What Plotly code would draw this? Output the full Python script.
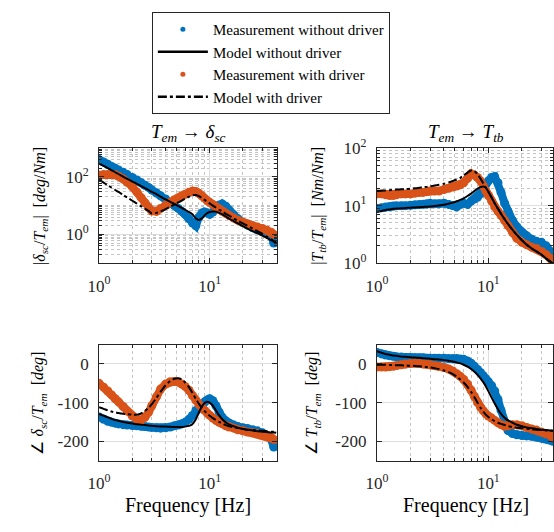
import plotly.graph_objects as go

# ---------------- data ----------------
F = [1.0, 1.1, 1.2, 1.3, 1.4, 1.5,
     1.65, 1.8, 2.0, 2.2, 2.4, 2.6, 2.8, 3.0,
     3.3, 3.6, 4.0, 4.4, 4.8, 5.2, 5.6, 6.0,
     6.5, 7.0, 7.5, 8.0, 8.5, 9.0, 9.5, 10.0,
     10.7, 11.4, 12.2, 13.0, 14.0, 15.0, 16.5, 18.0,
     20.0, 22.0, 24.5, 27.0, 30.0, 33.0, 36.0, 38.0, 40.0]

# T_em -> delta_sc magnitude [deg/Nm]
tl_meas_nodrv = [400, 330, 275, 230, 200, 175,
                 145, 120, 95, 78, 63, 51, 43, 35,
                 28, 22, 17, 12.6, 10, 8, 6.3, 5.0,
                 3.5, 2.5, 2.0, 4.0, 5.5, 6.0, 5.5, 5.0,
                 6.0, 8.0, 10.5, 11.5, 9.5, 7.0, 4.8, 3.5,
                 2.6, 2.1, 1.7, 1.45, 1.26, 1.1, 0.9, 0.5, None]
tl_meas_drv = [117, 120, 122, 122, 118, 105,
               85, 65, 45, 30, 19, 12.5, 8.5, 6.5,
               6.3, 8.0, 10.5, 13, 16, 19, 22, 25,
               29, 32, 31, 27, 22, 18, 15, 13,
               11, 9, 7.5, 6.3, 5.3, 4.5, 3.7, 3.1,
               2.6, 2.3, 2.0, 1.8, 1.6, 1.4, 1.2, 1.0, None]
tl_model_nodrv = [288, 240, 200, 170, 145, 126,
                  102, 85, 69, 57, 48, 41, 35, 30,
                  25, 20.6, 16.5, 13.5, 11.4, 9.7, 8.3, 7.2,
                  6.0, 5.0, 3.6, 3.2, 3.6, 4.6, 5.5, 6.0,
                  6.3, 6.2, 5.6, 5.0, 4.2, 3.5, 2.9, 2.4,
                  1.95, 1.6, 1.3, 1.1, 0.9, 0.74, 0.63, 0.56, 0.5]
tl_model_drv = [80, 63, 51, 42, 35, 30,
                23.5, 19, 14.8, 11.7, 9.5, 7.9, 6.6, 5.3,
                5.6, 6.3, 7.6, 9.1, 11, 12.9, 15, 17.4,
                20.4, 23, 23.4, 21.4, 18.6, 15.8, 13.8, 12,
                10, 8.5, 7.2, 6.3, 5.2, 4.5, 3.6, 3.0,
                2.4, 2.0, 1.6, 1.3, 1.05, 0.83, 0.68, 0.59, 0.5]

# T_em -> T_tb magnitude [Nm/Nm]
tr_meas_nodrv = [8.9, 9.2, 9.5, 9.7, 9.9, 10,
                 10, 10, 10.2, 10.4, 10.5, 10.6, 10.8, 11,
                 10.8, 10.8, 11, 10.5, 10, 9.5, 10.5, 11,
                 10.5, 12, 13, 14, 16, 19, 23, 27,
                 31, 32, 25, 17, 11, 8, 5.5, 4.3,
                 3.4, 3.0, 2.6, 2.4, 2.3, 2.0, 1.6, 1.2, None]
tr_meas_drv = [16, 16, 15.5, 15, 15, 15.5,
               16, 16, 16, 16.5, 17, 17, 17.5, 18,
               18, 18, 19, 20, 21, 22, 23, 25,
               30, 36, 34, 31, 27, 22, 18, 15,
               12, 9.5, 8, 6.8, 5.5, 4.5, 3.4, 2.7,
               2.3, 2.1, 1.9, 1.8, 1.6, 1.4, 1.2, 1.0, None]
tr_model_nodrv = [7.8, 8.1, 8.4, 8.6, 8.8, 8.9,
                  9.0, 9.1, 9.2, 9.3, 9.4, 9.5, 9.6, 9.7,
                  9.9, 10.1, 10.4, 10.8, 11.3, 11.9, 12.6, 13.4,
                  14.7, 16.2, 18, 19.8, 21, 21.5, 20.5, 17.5,
                  13.8, 11, 8.8, 7.2, 5.8, 4.8, 3.8, 3.1,
                  2.5, 2.1, 1.8, 1.6, 1.4, 1.2, 1.06, 0.98, 0.92]
tr_model_drv = [18, 18.2, 18.4, 18.6, 18.8, 19,
                19.2, 19.4, 19.7, 20, 20.4, 20.8, 21.2, 21.6,
                22.3, 23, 24, 25.3, 26.8, 28.5, 30.5, 33.5,
                37.5, 41, 40, 35, 29.5, 24.5, 20.5, 17.5,
                13.8, 11, 8.8, 7.2, 5.8, 4.8, 3.8, 3.1,
                2.5, 2.1, 1.8, 1.6, 1.4, 1.2, 1.06, 0.98, 0.92]

# T_em -> delta_sc phase [deg]
bl_meas_nodrv = [-137, -143, -148, -151, -153, -155,
                 -157, -158, -159, -160, -161, -162, -163, -164,
                 -165, -166, -165, -163, -160, -158, -155, -151,
                 -143, -133, -120, -112, -105, -98, -93, -90,
                 -95, -108, -125, -138, -147, -153, -158, -162,
                 -165, -167, -170, -173, -178, -185, -195, -215, None]
bl_meas_drv = [-50, -60, -70, -80, -90, -98,
               -110, -122, -135, -143, -145, -138, -125, -108,
               -85, -65, -52, -46, -45, -47, -52, -58,
               -68, -82, -94, -105, -113, -120, -127, -133,
               -140, -146, -151, -155, -160, -163, -166, -170,
               -173, -176, -178, -180, -183, -186, -190, -195, None]
bl_model_nodrv = [-129, -134, -138, -142, -145, -147,
                  -150, -152, -154, -156, -157, -158, -159, -160,
                  -161, -161.5, -162, -162.5, -163, -163, -163, -162,
                  -160, -155, -143, -125, -110, -101, -98, -100,
                  -108, -120, -133, -143, -151, -156, -161, -165,
                  -168, -170, -172, -174, -175, -176, -177, -177, -178]
bl_model_drv = [-112, -116, -120, -123, -125, -127,
                -129, -130, -131, -131, -128, -122, -114, -104,
                -88, -72, -55, -44, -38, -37, -40, -48,
                -60, -75, -90, -103, -113, -122, -128, -134,
                -140, -145, -150, -154, -158, -161, -164, -166,
                -168, -170, -171, -172, -173, -174, -175, -175, -176]

# T_em -> T_tb phase [deg]
br_meas_nodrv = [30, 26, 23, 21, 20, 19,
                 18, 17, 17, 16, 16, 16, 15, 15,
                 15, 15, 15, 14, 14, 14, 13, 12,
                 8, 2, -6, -14, -22, -30, -38, -46,
                 -56, -70, -92, -120, -150, -172, -180, -183,
                 -185, -186, -187, -189, -191, -193, -196, -200, None]
br_meas_drv = [-8, -8, -8, -7, -6, -4,
               -2, 0, 1, 2, 1, 0, -1, -2,
               -4, -6, -9, -13, -18, -25, -32, -40,
               -52, -68, -84, -100, -112, -121, -129, -135,
               -140, -146, -152, -157, -161, -160, -157, -157,
               -160, -164, -168, -171, -176, -180, -185, -190, None]
br_model_nodrv = [33, 29, 26, 24, 22, 21,
                  19.5, 18.5, 17.5, 16.5, 15.8, 15, 14.3, 13.5,
                  12.5, 11.5, 10, 8.5, 6.5, 4, 1.5, -2,
                  -7, -13, -20, -28, -37, -47, -58, -70,
                  -87, -102, -117, -129, -139, -146, -152, -157,
                  -161, -164, -166, -168, -170, -171, -172, -172.5, -173]
br_model_drv = [-2, -2, -2, -2.5, -3, -3,
                -3.5, -4, -4.5, -5, -6, -7, -8, -9,
                -11, -13, -17, -21, -26, -33, -40, -48,
                -59, -72, -86, -100, -113, -123, -131, -137,
                -143, -148, -152, -155, -158, -161, -163, -165,
                -166, -167.5, -169, -170, -171, -172, -172.5, -173, -173.5]

legend_names = ["Measurement without driver", "Model without driver",
                "Measurement with driver", "Model with driver"]

# ---------------- styling ----------------
BLUE = "#0072BD"
ORANGE = "#D95319"
AX = "#262626"
GRID = "#dedede"
MGRID = "#c4c4c4"
FONT = "Liberation Serif"

fig = go.Figure()

panels = [
    ("x", "y", tl_meas_nodrv, tl_meas_drv, tl_model_nodrv, tl_model_drv),
    ("x2", "y2", tr_meas_nodrv, tr_meas_drv, tr_model_nodrv, tr_model_drv),
    ("x3", "y3", bl_meas_nodrv, bl_meas_drv, bl_model_nodrv, bl_model_drv),
    ("x4", "y4", br_meas_nodrv, br_meas_drv, br_model_nodrv, br_model_drv),
]
for xa, ya, mn, md, sn, sd in panels:
    for vals, col in ((mn, BLUE), (md, ORANGE)):
        fig.add_trace(go.Scatter(
            x=F, y=vals, xaxis=xa, yaxis=ya, mode="lines+markers",
            line=dict(color=col, width=8),
            marker=dict(color=col, size=9, line=dict(width=0)),
            showlegend=False, hoverinfo="skip"))
    fig.add_trace(go.Scatter(
        x=F, y=sn, xaxis=xa, yaxis=ya, mode="lines",
        line=dict(color="black", width=2, shape="spline", smoothing=0.5),
        showlegend=False, hoverinfo="skip"))
    fig.add_trace(go.Scatter(
        x=F, y=sd, xaxis=xa, yaxis=ya, mode="lines",
        line=dict(color="black", width=2, dash="dashdot", shape="spline", smoothing=0.5),
        showlegend=False, hoverinfo="skip"))

# legend entries
fig.add_trace(go.Scatter(x=[None], y=[None], mode="markers", name=legend_names[0],
                         marker=dict(color=BLUE, size=5)))
fig.add_trace(go.Scatter(x=[None], y=[None], mode="lines", name=legend_names[1],
                         line=dict(color="black", width=2.5)))
fig.add_trace(go.Scatter(x=[None], y=[None], mode="markers", name=legend_names[2],
                         marker=dict(color=ORANGE, size=5)))
fig.add_trace(go.Scatter(x=[None], y=[None], mode="lines", name=legend_names[3],
                         line=dict(color="black", width=2.5, dash="dashdot")))

W, H = 554, 532


def px_x(a, b):
    return [a / W, min(b / W, 1.0)]


def px_y(top, bottom):
    return [1 - bottom / H, 1 - top / H]


XMINOR = [2, 3, 4, 5, 6, 7, 8, 9, 20, 30, 40]


def log_minor(lo, hi):
    out = []
    d = 10.0 ** lo
    while d < 10.0 ** hi:
        for k in range(2, 10):
            out.append(k * d)
        d *= 10
    return out


def common(**kw):
    base = dict(
        ticks="inside", ticklen=5, tickcolor=AX, tickwidth=1,
        showline=True, linecolor=AX, linewidth=1, mirror="ticks",
        showgrid=True, gridcolor=GRID, gridwidth=1, zeroline=False,
        tickfont=dict(family=FONT, size=17, color=AX),
    )
    base.update(kw)
    return base


def xaxis(domain, rng, anchor):
    return common(
        type="log", domain=domain, range=rng, anchor=anchor,
        tickmode="array", tickvals=[1, 10],
        ticktext=["10<sup>0</sup>", "10<sup>1</sup>"],
        ticklabelstandoff=7,
        minor=dict(tickmode="array", tickvals=XMINOR, ticks="inside", ticklen=3,
                   tickcolor=AX, showgrid=True, gridcolor=MGRID, griddash="dot"),
    )


xd_left = px_x(90, 272)
xd_right = px_x(374, 556)
yd_top = px_y(142, 262)
yd_bot = px_y(347, 468)

fig.update_layout(
    width=W, height=H,
    margin=dict(l=0, r=0, t=0, b=0),
    paper_bgcolor="white", plot_bgcolor="white",
    font=dict(family=FONT, color=AX),
    xaxis=xaxis(xd_left, [0, 1.61], "y"),
    xaxis2=xaxis(xd_right, [0, 1.58], "y2"),
    xaxis3=xaxis(xd_left, [0, 1.61], "y3"),
    xaxis4=xaxis(xd_right, [0, 1.58], "y4"),
    yaxis=common(
        type="log", domain=yd_top, range=[-1, 3], anchor="x",
        tickmode="array", tickvals=[1, 100],
        ticktext=["10<sup>0</sup>", "10<sup>2</sup>"], ticklabelstandoff=6,
        minor=dict(tickmode="array", tickvals=log_minor(-1, 3) + [0.1, 10, 1000],
                   ticks="inside", ticklen=3, tickcolor=AX,
                   showgrid=True, gridcolor=MGRID, griddash="dot")),
    yaxis2=common(
        type="log", domain=yd_top, range=[0, 2], anchor="x2",
        tickmode="array", tickvals=[1, 10, 100],
        ticktext=["10<sup>0</sup>", "10<sup>1</sup>", "10<sup>2</sup>"], ticklabelstandoff=6,
        minor=dict(tickmode="array", tickvals=log_minor(0, 2),
                   ticks="inside", ticklen=3, tickcolor=AX,
                   showgrid=True, gridcolor=MGRID, griddash="dot")),
    yaxis3=common(
        domain=yd_bot, range=[-250, 50], anchor="x3",
        tickmode="array", tickvals=[-200, -100, 0], ticktext=["-200", "-100", "0"],
        ticklabelstandoff=6),
    yaxis4=common(
        domain=yd_bot, range=[-250, 50], anchor="x4",
        tickmode="array", tickvals=[-200, -100, 0], ticktext=["-200", "-100", "0"],
        ticklabelstandoff=6),
    legend=dict(
        x=144 / W, y=1 - 0 / H, xanchor="left", yanchor="top",
        bgcolor="white", bordercolor=AX, borderwidth=1,
        font=dict(family=FONT, size=15, color="black"),
        tracegroupgap=0, itemwidth=50,
    ),
    showlegend=True,
)

ann = []


def add_text(text, xpx, ypx, size, angle=0):
    ann.append(dict(text=text, x=xpx / W, y=1 - ypx / H, xref="paper", yref="paper",
                    xanchor="center", yanchor="middle", showarrow=False,
                    textangle=angle, font=dict(family=FONT, size=size, color="black")))


add_text("<i>T</i><sub><i>em</i></sub> → <i>δ</i><sub><i>sc</i></sub>", 181, 126, 19)
add_text("<i>T</i><sub><i>em</i></sub> → <i>T</i><sub><i>tb</i></sub>", 465, 126, 19)
add_text("|<i>δ</i><sub><i>sc</i></sub>/<i>T</i><sub><i>em</i></sub>|  [<i>deg</i>/<i>Nm</i>]",
         30, 202, 16, -90)
add_text("|<i>T</i><sub><i>tb</i></sub>/<i>T</i><sub><i>em</i></sub>|  [<i>Nm</i>/<i>Nm</i>]",
         314, 202, 16, -90)
add_text("∠ <i>δ</i><sub><i>sc</i></sub>/<i>T</i><sub><i>em</i></sub>  [<i>deg</i>]",
         28, 408, 16, -90)
add_text("∠ <i>T</i><sub><i>tb</i></sub>/<i>T</i><sub><i>em</i></sub>  [<i>deg</i>]",
         308, 408, 16, -90)
add_text("Frequency [Hz]", 181, 515, 20)
add_text("Frequency [Hz]", 465, 515, 20)
fig.update_layout(annotations=ann)

fig.write_html("out.html")
